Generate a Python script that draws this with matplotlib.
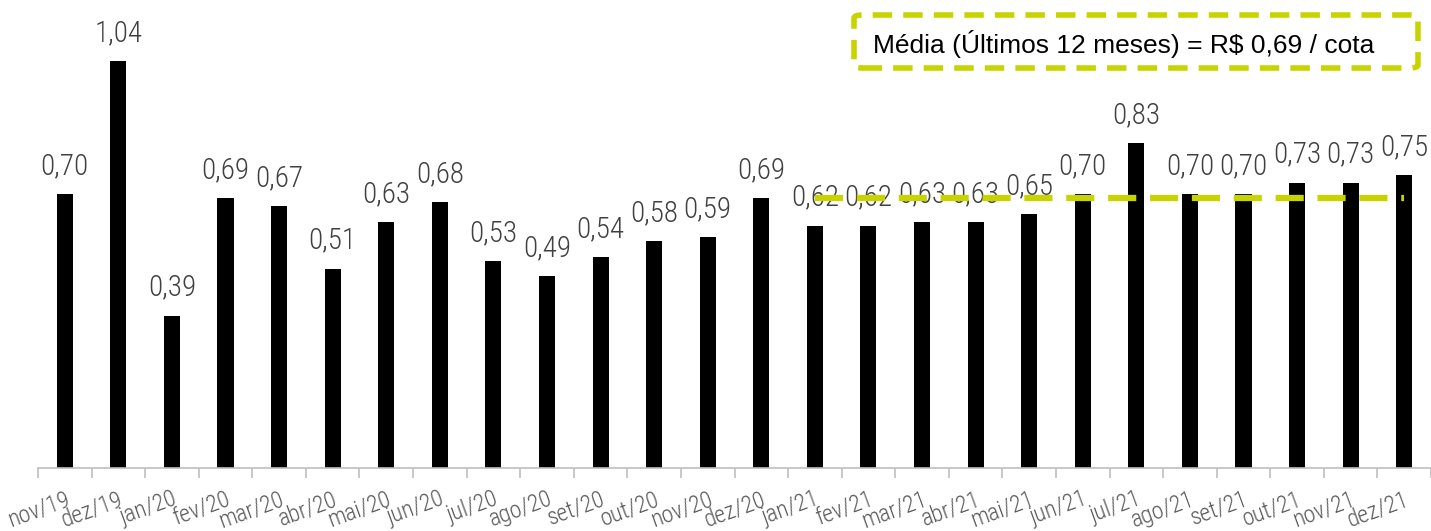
import numpy as np
import matplotlib
matplotlib.use("Agg")
import matplotlib.pyplot as plt
from matplotlib.patches import FancyBboxPatch

# dados
meses = ["nov/19", "dez/19", "jan/20", "fev/20", "mar/20", "abr/20", "mai/20", "jun/20",
         "jul/20", "ago/20", "set/20", "out/20", "nov/20", "dez/20", "jan/21", "fev/21",
         "mar/21", "abr/21", "mai/21", "jun/21", "jul/21", "ago/21", "set/21", "out/21",
         "nov/21", "dez/21"]
valores = [0.70, 1.04, 0.39, 0.69, 0.67, 0.51, 0.63, 0.68, 0.53, 0.49, 0.54, 0.58, 0.59,
           0.69, 0.62, 0.62, 0.63, 0.63, 0.65, 0.70, 0.83, 0.70, 0.70, 0.73, 0.73, 0.75]
texto_media = "Média (Últimos 12 meses) = R$ 0,69 / cota"

verde = "#C8D400"
fonte = ["Roboto Condensed", "Liberation Sans Narrow", "Roboto", "DejaVu Sans"]

fig = plt.figure(figsize=(14.31, 5.31), dpi=100)
ax = fig.add_axes([38 / 1431, 63 / 531, 1 - 38 / 1431, 1 - 63 / 531])

x = np.arange(len(meses))
ax.bar(x, valores, width=0.3, color="black", zorder=2)

for xi, v in zip(x, valores):
    ax.annotate("{:.2f}".format(v).replace(".", ","), xy=(xi, v), xytext=(0, 10),
                textcoords="offset points", ha="center", va="bottom",
                fontsize=21, color="#404040", family=fonte, fontweight="light", zorder=3)

# media dos ultimos 12 meses
media = np.mean(valores[-12:])
ax.plot(x[-12:], [media] * 12, color=verde, linewidth=4.5, linestyle=(0, (4.5, 2.2)),
        zorder=4, solid_capstyle="butt", dash_capstyle="butt")

ax.set_xlim(-0.5, len(meses) - 0.5)
ax.set_ylim(0, 1.197)
ax.set_yticks([])
for s in ["left", "right", "top"]:
    ax.spines[s].set_visible(False)
ax.spines["bottom"].set_color("#BFBFBF")
ax.spines["bottom"].set_linewidth(1.2)

ax.set_xticks(x)
ax.set_xticklabels(meses, rotation=20, ha="right", rotation_mode="anchor",
                   fontsize=17, color="#595959", family=fonte, fontweight="light")
ax.tick_params(axis="x", length=0, pad=14)
ax.set_xticks(np.arange(-0.5, len(meses), 1), minor=True)
ax.tick_params(axis="x", which="minor", length=7, color="#BFBFBF", width=1.2)

# caixa da media
caixa = FancyBboxPatch((854 / 1431, 1 - 68 / 531), 564 / 1431, 53 / 531,
                       boxstyle="round,pad=0,rounding_size=0.006", transform=fig.transFigure,
                       fill=False, edgecolor=verde, linewidth=4, linestyle=(0, (3.5, 2)))
fig.patches.append(caixa)
fig.text(873 / 1431, 1 - 44 / 531, texto_media, fontsize=19, color="black",
         family=["Liberation Sans Narrow", "Liberation Sans", "DejaVu Sans"],
         va="center", ha="left")

plt.savefig("out.png", dpi=100)
